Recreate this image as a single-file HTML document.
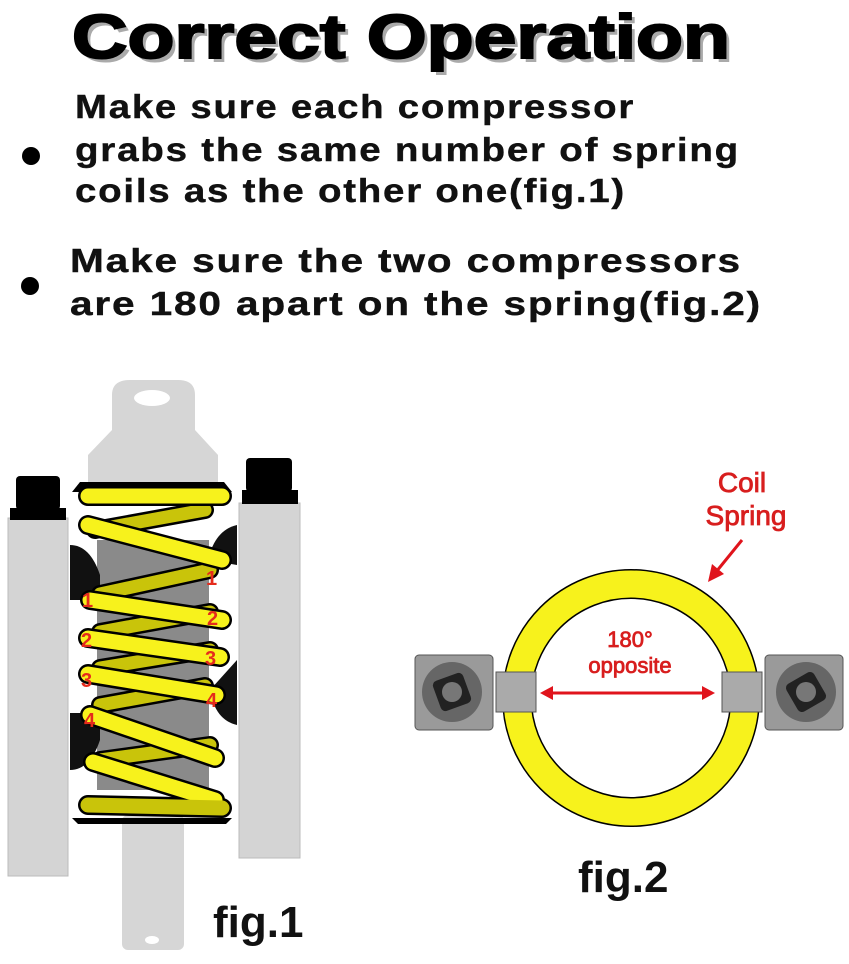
<!DOCTYPE html>
<html><head><meta charset="utf-8"><style>
body{margin:0;background:#fff}
svg{display:block}
.t{font-family:"Liberation Sans",sans-serif;font-weight:bold}
</style></head><body>
<svg width="849" height="964" viewBox="0 0 849 964" xmlns="http://www.w3.org/2000/svg">
<rect width="849" height="964" fill="#fff"/>
<text class="t" x="76" y="62" font-size="62" fill="#aaa" textLength="658" lengthAdjust="spacingAndGlyphs">Correct Operation</text>
<text class="t" x="72" y="58" font-size="62" fill="#000" stroke="#000" stroke-width="2" textLength="658" lengthAdjust="spacingAndGlyphs">Correct Operation</text>
<g class="t" font-size="33" fill="#111" letter-spacing="1.5" stroke="#111" stroke-width="0.4">
<text x="75" y="118" textLength="560" lengthAdjust="spacingAndGlyphs">Make sure each compressor</text>
<text x="75" y="161" textLength="665" lengthAdjust="spacingAndGlyphs">grabs the same number of spring</text>
<text x="75" y="202" textLength="551" lengthAdjust="spacingAndGlyphs">coils as the other one(fig.1)</text>
<text x="70" y="272" textLength="672" lengthAdjust="spacingAndGlyphs">Make sure the two compressors</text>
<text x="70" y="315" textLength="692" lengthAdjust="spacingAndGlyphs">are 180 apart on the spring(fig.2)</text>
</g>
<circle cx="31" cy="156" r="9" fill="#000"/>
<circle cx="30" cy="286" r="9" fill="#000"/>

<g fill="#d6d6d6">
<path d="M112 395 Q112 380 130 380 L178 380 Q195 380 195 395 L195 430 L218 455 L218 500 L88 500 L88 455 L112 430 Z"/>
<rect x="122" y="815" width="62" height="135" rx="6"/>
</g>
<ellipse cx="152" cy="398" rx="18" ry="8" fill="#fff"/>
<ellipse cx="152" cy="940" rx="7" ry="4" fill="#fff"/>
<rect x="97" y="540" width="112" height="250" fill="#8a8a8a"/>
<rect x="8" y="518" width="60" height="358" fill="#d4d4d4" stroke="#bbb"/>
<rect x="10" y="508" width="56" height="12" fill="#000"/>
<rect x="16" y="476" width="44" height="34" rx="4" fill="#000"/>
<rect x="239" y="503" width="61" height="355" fill="#d4d4d4" stroke="#bbb"/>
<rect x="242" y="490" width="56" height="14" fill="#000"/>
<rect x="246" y="458" width="46" height="34" rx="4" fill="#000"/>
<path d="M70 545 Q90 545 100 575 L100 600 L70 600 Z" fill="#111"/>
<path d="M237 525 Q215 530 208 560 L237 565 Z" fill="#111"/>
<path d="M70 713 L100 713 L100 740 Q90 770 70 770 Z" fill="#111"/>
<path d="M237 660 L210 690 Q215 720 237 725 Z" fill="#111"/>
<path d="M72 492 L80 482 L224 482 L232 492 Z" fill="#000"/>
<path d="M72 818 L232 818 L226 824 L78 824 Z" fill="#000"/>
<g stroke-linecap="round">
<g stroke="#000" stroke-width="18">
<line x1="205" y1="510" x2="95" y2="530"/><line x1="210" y1="570" x2="100" y2="594"/>
<line x1="210" y1="612" x2="100" y2="632"/><line x1="210" y1="650" x2="100" y2="668"/>
<line x1="205" y1="686" x2="100" y2="705"/><line x1="210" y1="745" x2="100" y2="760"/>
</g>
<g stroke="#c9c40a" stroke-width="13">
<line x1="205" y1="510" x2="95" y2="530"/><line x1="210" y1="570" x2="100" y2="594"/>
<line x1="210" y1="612" x2="100" y2="632"/><line x1="210" y1="650" x2="100" y2="668"/>
<line x1="205" y1="686" x2="100" y2="705"/><line x1="210" y1="745" x2="100" y2="760"/>
</g>
<g stroke="#000" stroke-width="20">
<line x1="88" y1="496" x2="222" y2="496"/><line x1="88" y1="525" x2="222" y2="560"/>
<line x1="90" y1="600" x2="222" y2="620"/><line x1="88" y1="638" x2="220" y2="657"/>
<line x1="88" y1="674" x2="216" y2="695"/><line x1="90" y1="715" x2="215" y2="758"/>
<line x1="93" y1="762" x2="215" y2="800"/><line x1="88" y1="805" x2="222" y2="808"/>
</g>
<g stroke="#f7f21c" stroke-width="15">
<line x1="88" y1="496" x2="222" y2="496"/><line x1="88" y1="525" x2="222" y2="560"/>
<line x1="90" y1="600" x2="222" y2="620"/><line x1="88" y1="638" x2="220" y2="657"/>
<line x1="88" y1="674" x2="216" y2="695"/><line x1="90" y1="715" x2="215" y2="758"/>
<line x1="93" y1="762" x2="215" y2="800"/>
</g>
<line x1="88" y1="805" x2="222" y2="808" stroke="#c9c40a" stroke-width="15"/>
</g>
<g class="t" font-size="20" fill="#e52b1c">
<text x="206" y="585">1</text><text x="207" y="625">2</text><text x="205" y="665">3</text><text x="206" y="707">4</text>
<text x="82" y="607">1</text><text x="81" y="647">2</text><text x="81" y="687">3</text><text x="84" y="727">4</text>
</g>
<text class="t" x="213" y="937" font-size="44" fill="#111">fig.1</text>

<circle cx="631" cy="698" r="114" fill="none" stroke="#000" stroke-width="30"/>
<circle cx="631" cy="698" r="114" fill="none" stroke="#f7f21c" stroke-width="27"/>
<g>
<rect x="415" y="655" width="78" height="75" rx="4" fill="#9a9a9a" stroke="#555"/>
<circle cx="452" cy="692" r="30" fill="#666"/>
<rect x="436" y="676" width="32" height="32" rx="5" fill="#222" transform="rotate(-20 452 692)"/>
<circle cx="452" cy="692" r="10" fill="#777"/>
<rect x="496" y="672" width="40" height="40" fill="#aaa" stroke="#555"/>
<rect x="765" y="655" width="78" height="75" rx="4" fill="#9a9a9a" stroke="#555"/>
<circle cx="806" cy="692" r="30" fill="#666"/>
<rect x="790" y="676" width="32" height="32" rx="5" fill="#222" transform="rotate(-30 806 692)"/>
<circle cx="806" cy="692" r="10" fill="#777"/>
<rect x="722" y="672" width="40" height="40" fill="#aaa" stroke="#555"/>
</g>
<line x1="550" y1="693" x2="705" y2="693" stroke="#e0141c" stroke-width="3"/>
<path d="M540 693 L553 686 L553 700 Z M715 693 L702 686 L702 700 Z" fill="#e0141c"/>
<g font-family="Liberation Sans,sans-serif" fill="#d81e1e" text-anchor="middle" stroke="#d81e1e" stroke-width="0.8">
<text x="630" y="647" font-size="22">180°</text>
<text x="630" y="673" font-size="22">opposite</text>
<text x="742" y="492" font-size="28">Coil</text>
<text x="746" y="525" font-size="28">Spring</text>
</g>
<line x1="742" y1="540" x2="716" y2="572" stroke="#e0141c" stroke-width="3"/>
<path d="M708 582 L712 564 L724 574 Z" fill="#e0141c"/>
<text class="t" x="578" y="892" font-size="44" fill="#111">fig.2</text>
</svg>
</body></html>
